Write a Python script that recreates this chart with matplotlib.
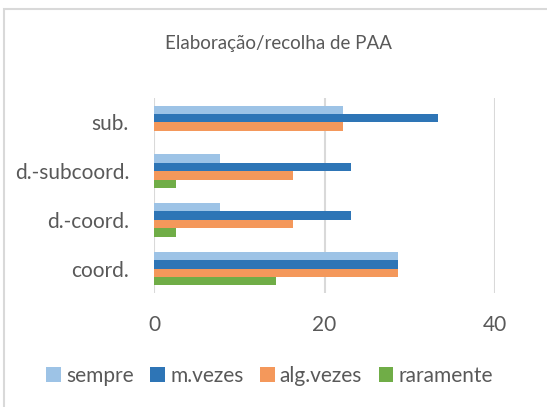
import matplotlib
matplotlib.use("Agg")
import matplotlib.pyplot as plt
from matplotlib.patches import Rectangle, Patch
import numpy as np

plt.rcParams['font.family'] = ['Lato', 'DejaVu Sans']

categories = ["coord.", "d.-coord.", "d.-subcoord.", "sub."]
series_names = ["sempre", "m.vezes", "alg.vezes", "raramente"]
sempre = [28.6, 7.7, 7.7, 22.2]
m_vezes = [28.6, 23.1, 23.1, 33.3]
alg_vezes = [28.6, 16.3, 16.3, 22.2]
raramente = [14.3, 2.6, 2.6, 0.0]
xticks = [0, 20, 40]
title = "Elaboração/recolha de PAA"

colors = ["#9DC3E6", "#2E75B6", "#F4985B", "#70AD47"]
text_color = "#595959"
grid_color = "#D9D9D9"

W, H = 547, 407
fig = plt.figure(figsize=(W / 100, H / 100), dpi=100)
ax = fig.add_axes([154 / W, 1 - 293 / H, (495 - 154) / W, (293 - 98) / H])

y = np.arange(len(categories))
h = 0.173
data = [sempre, m_vezes, alg_vezes, raramente]
offsets = [1.5, 0.5, -0.5, -1.5]
for vals, off, c, name in zip(data, offsets, colors, series_names):
    ax.barh(y + off * h, vals, height=h, color=c, label=name, zorder=3)

ax.set_xlim(0, 40)
ax.set_ylim(-0.5, len(categories) - 0.5)
ax.set_xticks(xticks)
ax.set_xticklabels([str(t) for t in xticks])
ax.set_yticks(y)
ax.set_yticklabels(categories)
ax.tick_params(axis='both', length=0, colors=text_color)
ax.tick_params(axis='x', pad=16, labelsize=15)
ax.tick_params(axis='y', pad=18, labelsize=15)
for s in ax.spines.values():
    s.set_visible(False)
ax.grid(axis='x', color=grid_color, linewidth=1.5, zorder=0)
ax.set_axisbelow(True)

fig.text(0.509, 1 - 44 / H, title, ha='center', va='center', fontsize=13.5, color=text_color)

handles = [Patch(facecolor=c, edgecolor='none') for c in colors]
fig.legend(handles, series_names, loc='center', bbox_to_anchor=(0.493, 1 - 376 / H),
           ncol=4, frameon=False, fontsize=15, labelcolor=text_color,
           handlelength=0.7, handleheight=0.7, handletextpad=0.25, columnspacing=0.8)

fig.patches.append(Rectangle((4 / W, -0.1), 1.2, 1 - 9 / H + 0.1, transform=fig.transFigure,
                             fill=False, edgecolor=grid_color, linewidth=1.5))

fig.savefig("out.png", dpi=100)
